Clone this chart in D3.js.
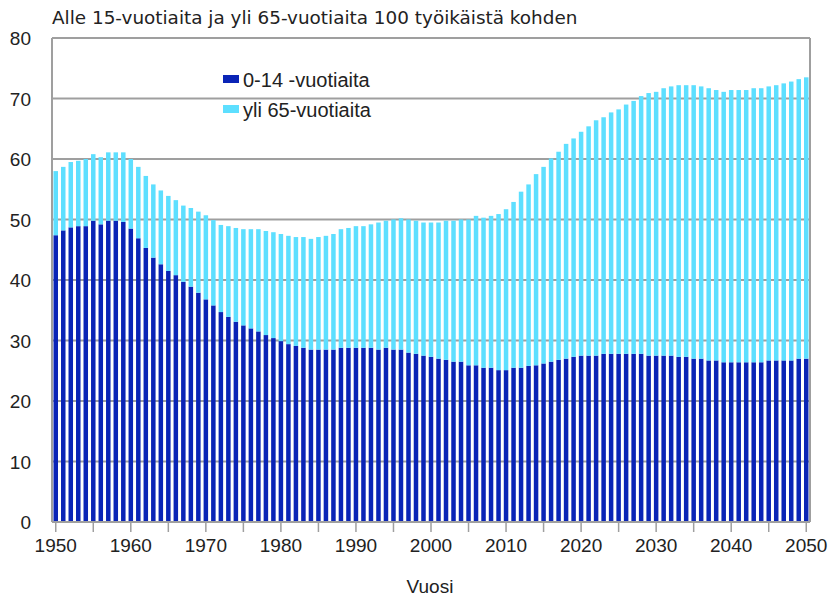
<!DOCTYPE html>
<html>
<head>
<meta charset="utf-8">
<script src="https://cdn.jsdelivr.net/npm/d3@7"></script>
<style>
  body { margin: 0; background: #fff; }
  text { font-family: "Liberation Sans", Arial, sans-serif; fill: #222; }
</style>
</head>
<body>
<svg id="chart" width="831" height="598"></svg>
<script>
// years 1950..2050
const years = d3.range(1950, 2051);

// 0-14 -vuotiaita per 100 working-age
const young = [
  47.4, 48.2, 48.7, 48.9, 48.9, 49.8, 49.2, 49.8, 49.8, 49.6,
  48.5, 46.9, 45.3, 43.7, 42.6, 41.5, 40.8, 39.7, 38.9, 37.9,
  36.8, 35.8, 34.7, 33.9, 33.1, 32.5, 32.0, 31.5, 30.9, 30.4,
  29.9, 29.4, 29.1, 28.8, 28.5, 28.5, 28.5, 28.5, 28.8, 28.8,
  28.8, 28.8, 28.8, 28.5, 28.8, 28.5, 28.5, 28.0, 27.8, 27.5,
  27.3, 27.0, 26.8, 26.5, 26.5, 25.9, 25.9, 25.5, 25.5, 25.1,
  25.1, 25.5, 25.5, 25.8, 25.9, 26.2, 26.5, 26.8, 27.0, 27.3,
  27.5, 27.5, 27.5, 27.8, 27.8, 27.8, 27.8, 27.8, 27.8, 27.5,
  27.5, 27.5, 27.5, 27.3, 27.3, 27.0, 27.0, 26.7, 26.7, 26.4,
  26.4, 26.4, 26.4, 26.4, 26.4, 26.7, 26.7, 26.7, 26.7, 27.0,
  27.0
];

// yli 65-vuotiaita per 100 working-age
const old = [
  10.6, 10.5, 10.8, 10.8, 11.1, 11.0, 11.1, 11.3, 11.3, 11.5,
  11.5, 11.8, 11.9, 12.1, 12.2, 12.4, 12.4, 12.6, 13.0, 13.4,
  13.9, 14.1, 14.4, 15.0, 15.5, 15.9, 16.4, 16.9, 17.2, 17.5,
  17.7, 17.9, 18.0, 18.3, 18.3, 18.6, 18.8, 19.1, 19.6, 19.8,
  20.1, 20.1, 20.4, 21.0, 21.0, 21.5, 21.7, 22.0, 22.0, 22.0,
  22.2, 22.5, 23.0, 23.3, 23.5, 24.1, 24.7, 24.8, 25.1, 25.8,
  26.6, 27.4, 29.1, 30.0, 31.6, 32.5, 33.6, 34.4, 35.5, 36.1,
  37.0, 37.9, 38.9, 39.1, 39.9, 40.4, 41.2, 41.8, 42.6, 43.4,
  43.6, 44.2, 44.5, 44.9, 44.9, 45.2, 45.0, 45.0, 44.7, 44.7,
  45.0, 45.0, 45.0, 45.3, 45.3, 45.3, 45.5, 45.8, 46.1, 46.2,
  46.5
];

const yTicks = [0, 10, 20, 30, 40, 50, 60, 70, 80];
const seriesNames = ["0-14 -vuotiaita", "yli 65-vuotiaita"];
const colors = ["#0a24b6", "#5ddfff"];

const svg = d3.select("#chart");
const margin = { top: 38, right: 21, bottom: 76, left: 52 };
const W = 831, H = 598;

const x = d3.scaleBand()
  .domain(years)
  .range([margin.left, W - margin.right])
  .paddingInner(0.4)
  .paddingOuter(0.2);

const y = d3.scaleLinear()
  .domain([0, 80])
  .range([H - margin.bottom, margin.top]);

// title
svg.append("text")
  .attr("x", margin.left)
  .attr("y", 24)
  .style("font-family", "'DejaVu Sans', sans-serif")
  .style("font-size", "18.4px")
  .text("Alle 15-vuotiaita ja yli 65-vuotiaita 100 työikäistä kohden");

// gridlines
svg.append("g")
  .selectAll("line")
  .data(yTicks.filter(d => d > 0))
  .join("line")
  .attr("x1", margin.left)
  .attr("x2", W - margin.right)
  .attr("y1", d => y(d))
  .attr("y2", d => y(d))
  .attr("stroke", "#9f9f9f")
  .attr("stroke-width", 2);

// stacked bars
const rows = years.map((yr, i) => ({ year: yr, young: young[i], old: old[i] }));
const stack = d3.stack().keys(["young", "old"])(rows);

svg.append("g")
  .selectAll("g")
  .data(stack)
  .join("g")
  .attr("fill", (d, i) => colors[i])
  .selectAll("rect")
  .data(d => d)
  .join("rect")
  .attr("x", d => x(d.data.year))
  .attr("width", x.bandwidth())
  .attr("y", d => y(d[1]))
  .attr("height", d => y(d[0]) - y(d[1]));

// frame lines
svg.append("line")
  .attr("x1", margin.left).attr("x2", margin.left)
  .attr("y1", margin.top).attr("y2", y(0))
  .attr("stroke", "#9f9f9f").attr("stroke-width", 2);
svg.append("line")
  .attr("x1", W - margin.right).attr("x2", W - margin.right)
  .attr("y1", margin.top).attr("y2", y(0))
  .attr("stroke", "#9f9f9f").attr("stroke-width", 2);
svg.append("line")
  .attr("x1", margin.left).attr("x2", W - margin.right)
  .attr("y1", y(0)).attr("y2", y(0))
  .attr("stroke", "#9f9f9f").attr("stroke-width", 2);

// y axis labels
svg.append("g")
  .selectAll("text")
  .data(yTicks)
  .join("text")
  .attr("x", 31)
  .attr("y", d => y(d) + 7)
  .attr("text-anchor", "end")
  .style("font-size", "19px")
  .text(d => d);

// x axis
const xAxis = d3.axisBottom(x)
  .tickValues(years.filter(d => d % 5 === 0))
  .tickSize(10)
  .tickSizeOuter(0)
  .tickFormat(d => d % 10 === 0 ? d : "");

const gx = svg.append("g")
  .attr("transform", `translate(0,${y(0)})`)
  .call(xAxis);
gx.select(".domain").remove();
gx.selectAll(".tick line").attr("stroke", "#9f9f9f").attr("stroke-width", 1.5);
gx.selectAll(".tick text")
  .attr("y", 17)
  .style("font-size", "19px")
  .style("font-family", "'Liberation Sans', Arial, sans-serif")
  .attr("fill", "#222");

svg.append("text")
  .attr("x", 430)
  .attr("y", 593)
  .attr("text-anchor", "middle")
  .style("font-size", "19px")
  .text("Vuosi");

// legend
const legend = svg.append("g").attr("transform", "translate(223,70)");
const li = legend.selectAll("g")
  .data(seriesNames)
  .join("g")
  .attr("transform", (d, i) => `translate(0,${i * 30})`);
li.append("rect")
  .attr("y", 5)
  .attr("width", 16)
  .attr("height", 8)
  .attr("fill", (d, i) => colors[i]);
li.append("text")
  .attr("x", 20)
  .attr("y", 17)
  .style("font-size", "20px")
  .text(d => d);
</script>
</body>
</html>
